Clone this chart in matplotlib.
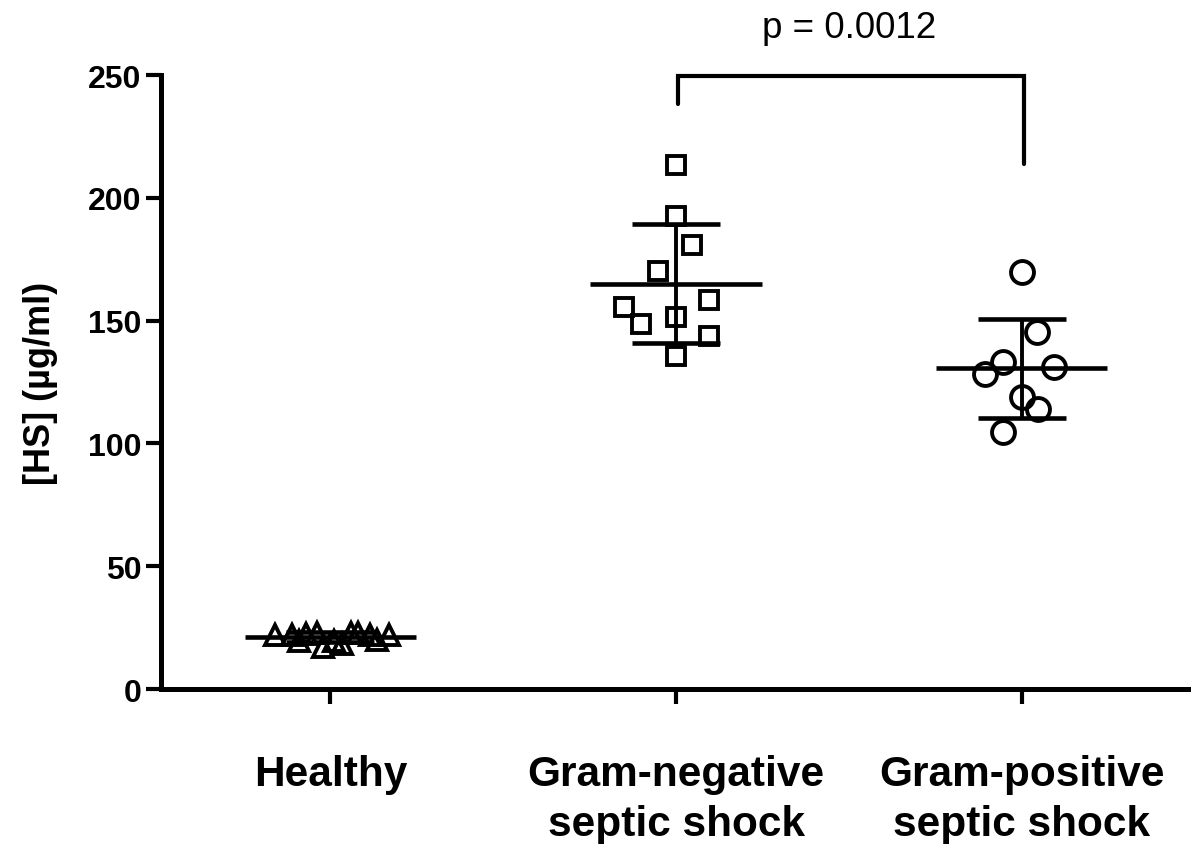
import numpy as np
import matplotlib.pyplot as plt

plt.rcParams['font.family'] = ['Liberation Sans', 'DejaVu Sans']

groups = ['Healthy', 'Gram-negative\nseptic shock', 'Gram-positive\nseptic shock']

healthy = [22, 22, 22.5, 23, 17, 19.5, 19.5, 23, 23, 22, 22, 18.5, 20]
healthy_dx = [-0.16, -0.11, -0.07, -0.04, -0.02, -0.09, 0.01, 0.06, 0.08, 0.115, 0.17, 0.035, 0.135]

gram_neg = [213.4, 192.6, 180.8, 170.2, 155.5, 148.6, 151.5, 158.4, 143.7, 135.6]
gram_neg_dx = [0, 0, 0.046, -0.052, -0.15, -0.10, 0, 0.095, 0.095, 0]

gram_pos = [169.8, 145.4, 133.1, 128.3, 131.1, 118.9, 114.0, 104.6]
gram_pos_dx = [0, 0.043, -0.055, -0.107, 0.095, 0, 0.046, -0.055]

p_text = 'p = 0.0012'

fig = plt.figure(figsize=(11.91, 8.45), dpi=100)
ax = fig.add_axes([0.1352, 0.1834, 0.8648, 0.7266])

data = [healthy, gram_neg, gram_pos]
offsets = [healthy_dx, gram_neg_dx, gram_pos_dx]
markers = [('^', 15), ('s', 13), ('o', 16.5)]

for i, (vals, dx, (mk, ms)) in enumerate(zip(data, offsets, markers)):
    vals = np.array(vals)
    x = i + np.array(dx)
    ax.plot(x, vals, linestyle='none', marker=mk, markersize=ms,
            markerfacecolor='none', markeredgecolor='black', markeredgewidth=2.8,
            clip_on=False, zorder=3)
    m = vals.mean()
    sd = vals.std(ddof=1)
    # mean line
    ax.plot([i - 0.248, i + 0.248], [m, m], color='black', lw=3.3, solid_capstyle='butt', zorder=4)
    # SD bar with caps
    ax.plot([i, i], [m - sd, m + sd], color='black', lw=2.8, solid_capstyle='butt', zorder=4)
    for y in (m - sd, m + sd):
        ax.plot([i - 0.127, i + 0.127], [y, y], color='black', lw=3.3, solid_capstyle='butt', zorder=4)

# significance bracket
ax.plot([1.007, 1.007, 2.008, 2.008], [238.2, 249.6, 249.6, 213.8], color='black',
        lw=3, clip_on=False, solid_capstyle='round', solid_joinstyle='miter')
ax.text(1.5, 265.5, p_text, ha='center', va='baseline', fontsize=26.5, clip_on=False)

ax.set_xlim(-0.49, 2.49)
ax.set_ylim(0, 250)
ax.set_yticks([0, 50, 100, 150, 200, 250])
ax.set_xticks(range(3))
ax.set_xticklabels(groups, fontsize=30.5, fontweight='bold', linespacing=1.3)
for lab in ax.get_yticklabels():
    lab.set_fontsize(23)
    lab.set_fontweight('bold')

ax.set_ylabel('[HS] (µg/ml)', fontsize=26, fontweight='bold', labelpad=22)

for s in ['top', 'right']:
    ax.spines[s].set_visible(False)
for s in ['left', 'bottom']:
    ax.spines[s].set_linewidth(3.6)

ax.tick_params(axis='y', length=11, width=3, pad=3)
ax.tick_params(axis='x', length=11, width=3, pad=36)

fig.savefig('out.png', dpi=100)
